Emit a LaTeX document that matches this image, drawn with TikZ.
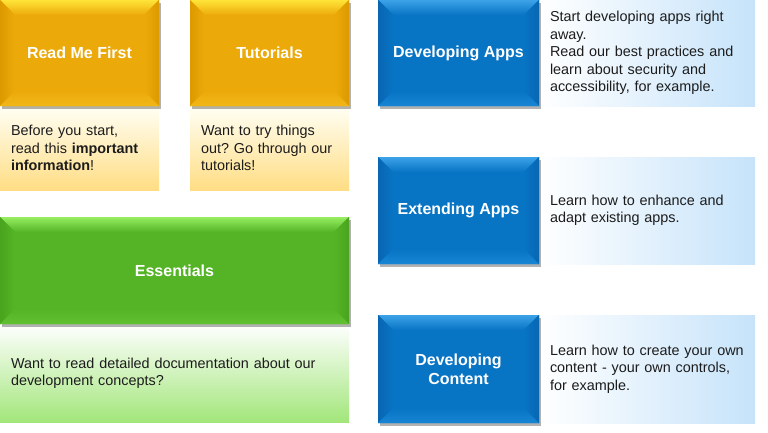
\documentclass[tikz,border=0pt]{standalone}
\usepackage{fontspec}
\setmainfont{Liberation Sans}
\usetikzlibrary{shadows}
\frenchspacing

% face, bevel-light and bevel-dark colours of the three families
\definecolor{ybase}{RGB}{236,170,10}
\definecolor{ylight}{RGB}{255,228,56}
\definecolor{ydark}{RGB}{220,154,0}
\definecolor{ybot}{RGB}{242,182,24}
\definecolor{gbase}{RGB}{84,180,38}
\definecolor{glight}{RGB}{150,238,96}
\definecolor{gdark}{RGB}{74,164,30}
\definecolor{gbot}{RGB}{96,192,48}
\definecolor{bbase}{RGB}{8,116,196}
\definecolor{blight}{RGB}{60,162,232}
\definecolor{bdark}{RGB}{8,102,178}
\definecolor{bbot}{RGB}{24,132,212}
\definecolor{bodytext}{RGB}{28,28,28}

\tikzset{
  bevelbox/.style n args={4}{
    fill=#1, draw=none, text=white,
    font=\fontsize{16}{19}\selectfont\bfseries, align=center,
    drop shadow={shadow xshift=1.5pt, shadow yshift=-3pt, opacity=0.3, fill=black},
    path picture={
      \path (path picture bounding box.north west) coordinate (bnw)
            (path picture bounding box.north east) coordinate (bne)
            (path picture bounding box.south west) coordinate (bsw)
            (path picture bounding box.south east) coordinate (bse);
      \fill[top color=#2, bottom color=#1]
        (bnw) -- (bne) -- ([shift={(-15pt,-15pt)}]bne) -- ([shift={(15pt,-15pt)}]bnw) -- cycle;
      \fill[left color=#3, right color=#1]
        (bnw) -- ([shift={(15pt,-15pt)}]bnw) -- ([shift={(15pt,15pt)}]bsw) -- (bsw) -- cycle;
      \fill[right color=#3, left color=#1]
        (bne) -- ([shift={(-15pt,-15pt)}]bne) -- ([shift={(-15pt,15pt)}]bse) -- (bse) -- cycle;
      \fill[bottom color=#4, top color=#1]
        (bsw) -- ([shift={(15pt,15pt)}]bsw) -- ([shift={(-15pt,15pt)}]bse) -- (bse) -- cycle;
    }},
  ybox/.style={bevelbox={ybase}{ylight}{ydark}{ybot}},
  gbox/.style={bevelbox={gbase}{glight}{gdark}{gbot}},
  bbox/.style={bevelbox={bbase}{blight}{bdark}{bbot}},
  desc/.style={draw=none, text=bodytext, align=left, inner xsep=11pt, inner ysep=0pt,
    font=\fontsize{14.4}{17.4}\selectfont},
  ydesc/.style={desc, top color=yellow!4!white, bottom color={rgb,255:red,255;green,221;blue,132}},
  gdesc/.style={desc, top color=white, bottom color={rgb,255:red,162;green,230;blue,122}},
  bdesc/.style={desc, left color=white, right color={rgb,255:red,198;green,227;blue,250}},
}

\begin{document}
\begin{tikzpicture}[x=1pt,y=-1pt]
  \useasboundingbox (0,0) rectangle (768,432);

  % description panels
  \node[ydesc, text width=137pt, minimum height=84pt] (rmfd) at (79.5,148) {Before you start,\\read this \textbf{important}\\\textbf{information}!};
  \node[ydesc, text width=137pt, minimum height=84pt] (tutd) at (269.5,148) {Want to try things\\out? Go through our\\tutorials!};
  \node[gdesc, text width=327pt, minimum height=98pt] (essd) at (174.5,373) {Want to read detailed documentation about our\\development concepts?};
  \node[bdesc, text width=194pt, minimum height=106pt] (devd) at (647,53) {Start developing apps right\\away.\\Read our best practices and\\learn about security and\\accessibility, for example.};
  \node[bdesc, text width=194pt, minimum height=107pt] (extd) at (647,210.5) {Learn how to enhance and\\adapt existing apps.};
  \node[bdesc, text width=194pt, minimum height=108pt] (cond) at (647,369) {Learn how to create your own\\content - your own controls,\\for example.};

  % bevelled title tiles
  \node[ybox, minimum width=159pt, minimum height=106pt] (rmf) at (79.5,53) {Read Me First};
  \node[ybox, minimum width=159pt, minimum height=106pt] (tut) at (269.5,53) {Tutorials};
  \node[gbox, minimum width=349pt, minimum height=107pt] (ess) at (174.5,270.5) {Essentials};
  \node[bbox, minimum width=161pt, minimum height=106pt] (dev) at (458.5,53) {Developing Apps};
  \node[bbox, minimum width=161pt, minimum height=107pt] (ext) at (458.5,210.5) {Extending Apps};
  \node[bbox, minimum width=161pt, minimum height=108pt] (con) at (458.5,369) {Developing\\Content};
\end{tikzpicture}
\end{document}
